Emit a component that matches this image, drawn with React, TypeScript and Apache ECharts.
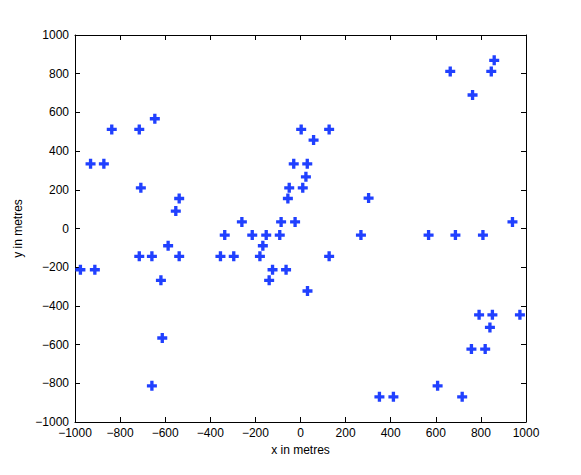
import React, { useEffect, useRef } from "react";
import * as echarts from "echarts";

const xValues: number[] = [
  -976, -912, -931, -872, -837, -715, -646, -708, -553, -538,
  -715, -659, -587, -538, -619, -613, -659, -355, -336, -296,
  -260, -214, -180, -167, -152, -139, -124, -92, -86, -64,
  -56, -50, -30, -24, 3, 10, 24, 30, 31, 58,
  127, 127, 268, 302, 350, 412, 568, 608, 664, 687,
  717, 758, 763, 792, 809, 819, 840, 846, 851, 859,
  940, 973,
];
const yValues: number[] = [
  -213, -213, 334, 334, 512, 512, 567, 210, 90, 155,
  -144, -144, -89, -144, -268, -566, -813, -144, -34, -144,
  34, -34, -144, -89, -34, -268, -213, -34, 34, -213,
  155, 210, 334, 34, 512, 210, 267, 334, -323, 457,
  512, -144, -34, 157, -870, -870, -34, -813, 812, -34,
  -870, -623, 690, -446, -34, -623, -511, 812, -446, 869,
  34, -446,
];
const xTicks: number[] = [-1000, -800, -600, -400, -200, 0, 200, 400, 600, 800, 1000];
const yTicks: number[] = [-1000, -800, -600, -400, -200, 0, 200, 400, 600, 800, 1000];

const fmt = (v: number) => (v < 0 ? "\u2212" + Math.abs(v) : String(v));
const FONT = "Liberation Sans, Arial, Helvetica, sans-serif";

export default function App() {
  const ref = useRef<HTMLDivElement>(null);
  useEffect(() => {
    document.body.style.margin = "0";
    if (!ref.current) return;
    const chart = echarts.init(ref.current, undefined, { renderer: "svg" });
    const data = xValues.map((x, i) => [x, yValues[i]]);
    const axisLine = { show: true, onZero: false, lineStyle: { color: "#000", width: 1 } };
    const tick = { show: true, inside: true, length: 5, lineStyle: { color: "#000" } };
    chart.setOption({
      animation: false,
      backgroundColor: "#fff",
      grid: { left: 75, right: 55, top: 35, bottom: 53, containLabel: false },
      xAxis: [
        {
          type: "value",
          min: xTicks[0],
          max: xTicks[xTicks.length - 1],
          interval: 200,
          position: "bottom",
          name: "x in metres",
          nameLocation: "middle",
          nameGap: 22,
          nameTextStyle: { fontFamily: FONT, fontSize: 12, color: "#000" },
          axisLine,
          axisTick: tick,
          axisLabel: { formatter: fmt, fontFamily: FONT, fontSize: 12, color: "#000", margin: 5 },
          splitLine: { show: false },
        },
        {
          type: "value",
          min: xTicks[0],
          max: xTicks[xTicks.length - 1],
          interval: 200,
          position: "top",
          axisLine,
          axisTick: tick,
          axisLabel: { show: false },
          splitLine: { show: false },
        },
      ],
      yAxis: [
        {
          type: "value",
          min: yTicks[0],
          max: yTicks[yTicks.length - 1],
          interval: 200,
          position: "left",
          name: "y in metres",
          nameLocation: "middle",
          nameGap: 48,
          nameTextStyle: { fontFamily: FONT, fontSize: 12, color: "#000" },
          axisLine,
          axisTick: tick,
          axisLabel: { formatter: fmt, fontFamily: FONT, fontSize: 12, color: "#000", margin: 6 },
          splitLine: { show: false },
        },
        {
          type: "value",
          min: yTicks[0],
          max: yTicks[yTicks.length - 1],
          interval: 200,
          position: "right",
          axisLine,
          axisTick: tick,
          axisLabel: { show: false },
          splitLine: { show: false },
        },
      ],
      series: [
        {
          type: "scatter",
          data,
          symbol: "path://M3,0H6V3H9V6H6V9H3V6H0V3H3Z",
          symbolSize: 10,
          itemStyle: { color: "#2040ff", opacity: 1 },
          emphasis: { disabled: true },
        },
      ],
    });
    return () => chart.dispose();
  }, []);
  return <div ref={ref} style={{ width: 581, height: 475 }} />;
}
